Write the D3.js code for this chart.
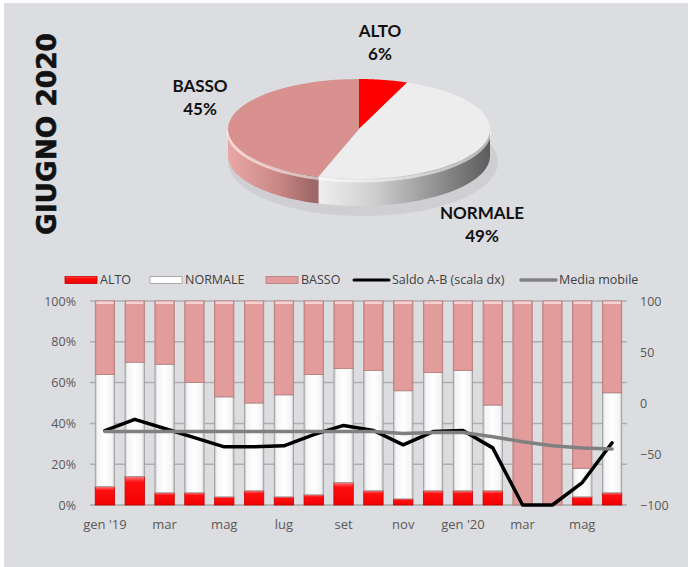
<!DOCTYPE html>
<html>
<head>
<meta charset="utf-8">
<script src="https://cdn.jsdelivr.net/npm/d3@7"></script>
<style>
  body { margin: 0; background: #fff; }
  svg { display: block; }
  text { font-family: "Open Sans", sans-serif; }
</style>
</head>
<body>
<svg id="chart" width="688" height="567"></svg>
<script>
// data
const months = ["gen '19", 'feb', 'mar', 'apr', 'mag', 'giu', 'lug', 'ago', 'set', 'ott', 'nov', 'dic',
                "gen '20", 'feb', 'mar', 'apr', 'mag', 'giu'];
const alto    = [9, 14, 6, 6, 4, 7, 4, 5, 11, 7, 3, 7, 7, 7, 0, 0, 4, 6];
const normale = [55, 56, 63, 54, 49, 43, 50, 59, 56, 59, 53, 58, 59, 42, 0, 0, 14, 49];
const basso   = [36, 30, 31, 40, 47, 50, 46, 36, 33, 34, 44, 35, 34, 51, 100, 100, 82, 45];
const saldo   = [-27, -16, -25, -34, -43, -43, -42, -31, -22, -27, -41, -28, -27, -44, -100, -100, -78, -39];
const mediaMobile = [-28, -28, -28, -28, -28, -28, -28, -28, -28, -28, -30, -29, -29, -33, -38, -42, -44, -45];
const leftTicks = [0, 0.2, 0.4, 0.6, 0.8, 1];
const rightTicks = [-100, -50, 0, 50, 100];

const pieLabels = ['ALTO', 'NORMALE', 'BASSO'];
const pieValues = [6, 49, 45];

const svg = d3.select('#chart');
const defs = svg.append('defs');

// background
svg.append('rect').attr('x', 4).attr('y', 3).attr('width', 684).attr('height', 564).attr('fill', '#dcdde0');

// ---------- gradients ----------
const grad = (id, stops, x1, y1, x2, y2, units) => {
    const g = defs.append('linearGradient').attr('id', id)
        .attr('x1', x1).attr('y1', y1).attr('x2', x2).attr('y2', y2);
    if (units) g.attr('gradientUnits', units);
    stops.forEach(([o, c]) => g.append('stop').attr('offset', o).attr('stop-color', c));
};
grad('gWhite', [[0, '#bdbdbd'], [0.12, '#f4f4f4'], [0.5, '#ffffff'], [0.88, '#f4f4f4'], [1, '#bdbdbd']], 0, 0, 1, 0);
grad('gPink', [[0, '#cf8a8a'], [0.1, '#e39c9c'], [0.9, '#e39c9c'], [1, '#cf8a8a']], 0, 0, 1, 0);
grad('gRed', [[0, '#ff8080'], [0.2, '#ff1010'], [1, '#f00000']], 0, 0, 0, 1);
grad('gSideN', [[0, '#f2f2f2'], [0.35, '#cfcfcf'], [1, '#5c5c5c']], 312, 0, 490, 0, 'userSpaceOnUse');
grad('gSideB', [[0, '#eaa7a5'], [0.6, '#c98785'], [1, '#9e6866']], 228, 0, 312, 0, 'userSpaceOnUse');

// ---------- title ----------
svg.append('text')
    .attr('transform', 'translate(56,134) rotate(-90)')
    .attr('text-anchor', 'middle')
    .attr('textLength', 202).attr('lengthAdjust', 'spacingAndGlyphs')
    .style('font-family', '"DejaVu Sans", sans-serif')
    .style('font-weight', 'bold').style('font-size', '27px').attr('fill', '#111')
    .attr('stroke', '#111').attr('stroke-width', 0.6)
    .text('GIUGNO 2020');

// ---------- 3D pie ----------
const cx = 359, cy = 129, rx = 131, ry = 50, depth = 27;
const pieColors = { ALTO: '#ff0000', NORMALE: '#ededed', BASSO: '#d9918f' };
const sideColors = { ALTO: '#c00000', NORMALE: 'url(#gSideN)', BASSO: 'url(#gSideB)' };
const arcs = d3.pie().sort(null)(pieValues);
const ex = a => cx + rx * Math.sin(a);
const ey = a => cy - ry * Math.cos(a);
const arcPts = (a0, a1, dy) => d3.range(0, 41).map(i => {
    const a = a0 + (a1 - a0) * i / 40;
    return [ex(a), ey(a) + dy];
});
const lineGen = d3.line();

// soft shadow
svg.append('ellipse').attr('cx', cx + 4).attr('cy', cy + depth + 6).attr('rx', rx + 4).attr('ry', ry + 4)
    .attr('fill', '#c6c7ca').attr('opacity', 0.6);

const pieG = svg.append('g');
arcs.forEach((d, i) => {
    const a0 = Math.max(d.startAngle, Math.PI / 2), a1 = Math.min(d.endAngle, 3 * Math.PI / 2);
    if (a1 <= a0) return;
    const pts = arcPts(a0, a1, 0).concat(arcPts(a1, a0, depth));
    pieG.append('path').attr('d', lineGen(pts) + 'Z').attr('fill', sideColors[pieLabels[i]]);
});
// light rim at top of the side
pieG.append('path').attr('d', lineGen(arcPts(Math.PI / 2, 3 * Math.PI / 2, 2)))
    .attr('fill', 'none').attr('stroke', '#ffffff').attr('stroke-opacity', 0.55).attr('stroke-width', 3);
arcs.forEach((d, i) => {
    const pts = [[cx, cy]].concat(arcPts(d.startAngle, d.endAngle, 0));
    pieG.append('path').attr('d', lineGen(pts) + 'Z').attr('fill', pieColors[pieLabels[i]]);
});

const pieLabelPos = [[380, 37], [482, 219], [200, 92]];
pieLabels.forEach((l, i) => {
    const t = svg.append('text').attr('text-anchor', 'middle')
        .style('font-family', 'Lato, sans-serif').style('font-weight', 'bold').style('font-size', '17px')
        .attr('fill', '#111');
    t.append('tspan').attr('x', pieLabelPos[i][0]).attr('y', pieLabelPos[i][1]).text(l);
    t.append('tspan').attr('x', pieLabelPos[i][0]).attr('y', pieLabelPos[i][1] + 23).text(pieValues[i] + '%');
});

// ---------- bar chart ----------
const x = d3.scaleBand().domain(d3.range(months.length)).range([90, 627]).paddingInner(0.35).paddingOuter(0.175);
const y = d3.scaleLinear().domain([0, 1]).range([505, 301]);
const y2 = d3.scaleLinear().domain([-100, 100]).range([505, 301]);

const grid = svg.append('g');
grid.selectAll('line').data(leftTicks).join('line')
    .attr('x1', 90).attr('x2', 627)
    .attr('y1', d => y(d)).attr('y2', d => y(d))
    .attr('stroke', d => d === 0 ? '#a6a6a6' : '#aeafb2').attr('stroke-width', 1.5);

const leftAxis = svg.append('g').attr('transform', 'translate(80,0)')
    .call(d3.axisLeft(y).tickValues(leftTicks).tickFormat(d3.format('.0%')).tickSize(0).tickPadding(4));
const rightAxis = svg.append('g').attr('transform', 'translate(636,0)')
    .call(d3.axisRight(y2).tickValues(rightTicks).tickSize(0).tickPadding(4));
const bottomAxis = svg.append('g').attr('transform', 'translate(0,505)')
    .call(d3.axisBottom(x).tickValues(d3.range(0, months.length, 2)).tickFormat(i => months[i]).tickSize(0).tickPadding(15));
[leftAxis, rightAxis, bottomAxis].forEach(a => {
    a.select('.domain').remove();
    a.selectAll('text').attr('fill', '#595959').style('font-size', '12.5px').style('font-family', '"Open Sans", sans-serif');
});
bottomAxis.selectAll('text').style('font-size', '13px');

const stack = d3.stack().keys(['alto', 'normale', 'basso'])(
    months.map((m, i) => ({ alto: alto[i] / 100, normale: normale[i] / 100, basso: basso[i] / 100 })));
const fills = { alto: 'url(#gRed)', normale: 'url(#gWhite)', basso: 'url(#gPink)' };
const strokes = { alto: '#c80000', normale: '#9c9c9c', basso: '#b87d7d' };
const bars = svg.append('g');
stack.forEach(layer => {
    bars.append('g').selectAll('rect').data(layer.map((d, i) => ({ d, i })).filter(o => o.d[1] - o.d[0] > 0))
        .join('rect')
        .attr('x', o => x(o.i)).attr('width', x.bandwidth())
        .attr('y', o => y(o.d[1])).attr('height', o => y(o.d[0]) - y(o.d[1]))
        .attr('fill', fills[layer.key]).attr('stroke', strokes[layer.key]).attr('stroke-width', 0.8);
});
// light top edge of each pink segment
bars.append('g').selectAll('rect').data(months.map((m, i) => i).filter(i => basso[i] > 0)).join('rect')
    .attr('x', i => x(i) + 1).attr('width', x.bandwidth() - 2).attr('y', y(1) + 0.5).attr('height', 2.5)
    .attr('fill', '#f7d2d2');

const line = vals => d3.line().x((v, i) => x(i) + x.bandwidth() / 2).y(v => y2(v))(vals);
svg.append('path').attr('d', line(saldo)).attr('fill', 'none').attr('stroke', '#000')
    .attr('stroke-width', 3.5).attr('stroke-linejoin', 'round').attr('stroke-linecap', 'round');
svg.append('path').attr('d', line(mediaMobile)).attr('fill', 'none').attr('stroke', '#808080')
    .attr('stroke-width', 3.5).attr('stroke-linejoin', 'round').attr('stroke-linecap', 'round');

// ---------- legend ----------
const legendItems = [
    { label: 'ALTO', type: 'rect', fill: 'url(#gRed)', stroke: '#c80000', x: 65, w: 32 },
    { label: 'NORMALE', type: 'rect', fill: '#ffffff', stroke: '#9c9c9c', x: 150, w: 32 },
    { label: 'BASSO', type: 'rect', fill: '#e39c9c', stroke: '#b87d7d', x: 266, w: 32 },
    { label: 'Saldo A-B (scala dx)', type: 'line', stroke: '#000', x: 354, w: 35, sw: 3 },
    { label: 'Media mobile', type: 'line', stroke: '#808080', x: 521, w: 35, sw: 3.5 }
];
const ly = 280;
const legend = svg.append('g');
legendItems.forEach(it => {
    if (it.type === 'rect') {
        legend.append('rect').attr('x', it.x).attr('y', ly - 3.5).attr('width', it.w).attr('height', 7)
            .attr('fill', it.fill).attr('stroke', it.stroke).attr('stroke-width', 0.8);
    } else {
        legend.append('line').attr('x1', it.x).attr('x2', it.x + it.w).attr('y1', ly).attr('y2', ly)
            .attr('stroke', it.stroke).attr('stroke-width', it.sw).attr('stroke-linecap', 'round');
    }
    legend.append('text').attr('x', it.x + it.w + 3).attr('y', ly).attr('dy', '0.35em')
        .attr('fill', '#404040').style('font-size', '12.5px').text(it.label);
});
</script>
</body>
</html>
